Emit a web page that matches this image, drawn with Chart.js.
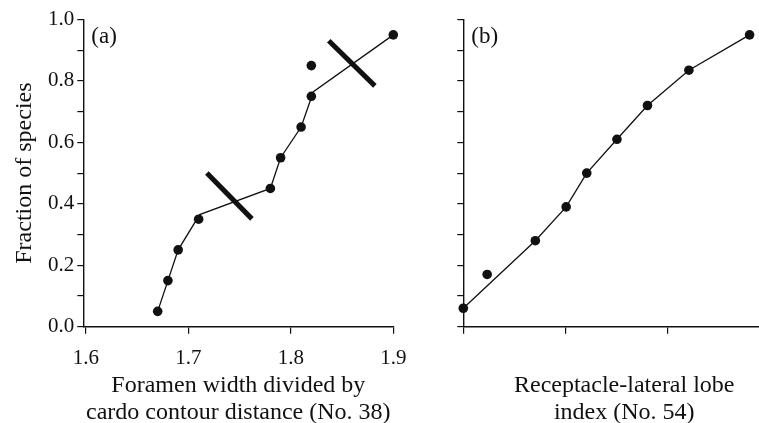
<!DOCTYPE html>
<html>
<head>
<meta charset="utf-8">
<script src="https://cdn.jsdelivr.net/npm/chart.js@4/dist/chart.umd.min.js"></script>
<style>
  html, body { margin: 0; padding: 0; background: #fff; overflow: hidden; }
  #wrap { position: relative; width: 759px; height: 423px; overflow: hidden; }
  #chartA { position: absolute; left: 0; top: 0; }
  #chartB { position: absolute; left: 420px; top: 0; }
</style>
</head>
<body>
<div id="wrap">
  <canvas id="chartA" width="420" height="426"></canvas>
  <canvas id="chartB" width="370" height="426"></canvas>
</div>
<script>
// Panel (a): foramen width / cardo contour distance
const aX = [1.67, 1.68, 1.69, 1.71, 1.78, 1.79, 1.81, 1.82, 1.82, 1.90];
const aY = [0.05, 0.15, 0.25, 0.35, 0.45, 0.55, 0.65, 0.75, 0.85, 0.95];
// piecewise fit line through the points
const aFitX = [1.67, 1.68, 1.69, 1.711, 1.78, 1.79, 1.81, 1.822, 1.90];
const aFitY = [0.05, 0.15, 0.25, 0.365, 0.45, 0.55, 0.65, 0.765, 0.95];
// the two break marks (thick slashes)
const aBreak1X = [1.718, 1.762];
const aBreak1Y = [0.50, 0.351];
const aBreak2X = [1.837, 1.882];
const aBreak2Y = [0.931, 0.784];
const aTicksX = [1.6, 1.7, 1.8, 1.9];

// Panel (b): receptacle-lateral lobe index (unlabelled x units)
const bX = [0, 0.234, 0.706, 1.008, 1.21, 1.506, 1.805, 2.211, 2.806];
const bY = [0.06, 0.17, 0.28, 0.39, 0.50, 0.61, 0.72, 0.835, 0.95];
const bFitX = [0, 0.706, 1.008, 1.21, 1.506, 1.805, 2.211, 2.806];
const bFitY = [0.06, 0.28, 0.39, 0.50, 0.61, 0.72, 0.835, 0.95];
const bTicksX = [0, 1, 2];

const serif = '"Liberation Serif", "DejaVu Serif", serif';
const ink = '#111';

function pts(xs, ys) {
  return xs.map((x, i) => ({ x: x, y: ys[i] }));
}

// draws the "(a)" / "(b)" panel letter
const panelLabel = {
  id: 'panelLabel',
  afterDraw(chart, args, opts) {
    const { ctx, chartArea } = chart;
    ctx.save();
    ctx.font = '23px ' + serif;
    ctx.fillStyle = ink;
    ctx.textBaseline = 'middle';
    ctx.fillText(opts.text, chartArea.left + 8, chartArea.top + 17);
    ctx.restore();
  }
};

function yScale(width, showLabels, title) {
  return {
    min: 0, max: 1,
    afterFit: s => { s.width = width; },
    border: { display: true, color: ink, width: 1.4 },
    grid: { drawOnChartArea: false, drawTicks: true, tickLength: 6, color: ink, lineWidth: 1.2 },
    ticks: {
      stepSize: 0.1, padding: 3, color: ink,
      font: { family: serif, size: 21 },
      callback: v => (showLabels && Math.round(v * 10) % 2 === 0) ? v.toFixed(1) : ''
    },
    title: {
      display: !!title, text: title, color: ink,
      font: { family: serif, size: 24 }, padding: { top: 10 }
    }
  };
}

function xScale(min, max, tickVals, showLabels, title) {
  return {
    type: 'linear', min: min, max: max,
    afterFit: s => { s.height = 99.3; },
    afterBuildTicks: s => { s.ticks = tickVals.map(v => ({ value: v })); },
    border: { display: true, color: ink, width: 1.4 },
    grid: { drawOnChartArea: false, drawTicks: true, tickLength: 7, color: ink, lineWidth: 1.2 },
    ticks: {
      padding: 12, color: ink, maxRotation: 0, autoSkip: false,
      font: { family: serif, size: 21 },
      callback: v => showLabels ? v.toFixed(1) : ''
    },
    title: {
      display: true, text: title, color: ink,
      font: { family: serif, size: 24, lineHeight: '27px' }, padding: { bottom: 0 }
    }
  };
}

const dotStyle = {
  type: 'scatter', showLine: false, pointRadius: 4.8, pointHoverRadius: 4.8,
  pointBackgroundColor: ink, pointBorderColor: ink, pointBorderWidth: 0, clip: false
};
const fitStyle = {
  type: 'line', borderColor: ink, borderWidth: 1.3, pointRadius: 0, tension: 0, fill: false, clip: false
};
const breakStyle = {
  type: 'line', borderColor: ink, borderWidth: 5, pointRadius: 0, tension: 0, fill: false, clip: false,
  borderCapStyle: 'butt'
};

const common = {
  responsive: false,
  animation: false,
  events: [],
  plugins: { legend: { display: false }, tooltip: { enabled: false } }
};

// Render panel (a)
new Chart(document.getElementById('chartA').getContext('2d'), {
  data: {
    datasets: [
      Object.assign({ data: pts(aFitX, aFitY) }, fitStyle),
      Object.assign({ data: pts(aBreak1X, aBreak1Y) }, breakStyle),
      Object.assign({ data: pts(aBreak2X, aBreak2Y) }, breakStyle),
      Object.assign({ data: pts(aX, aY) }, dotStyle)
    ]
  },
  options: Object.assign({}, common, {
    layout: { padding: { left: 0, top: 19.5, right: 26.7, bottom: 0 } },
    scales: {
      x: xScale(1.5974, 1.9, aTicksX, true, ['Foramen width divided by', 'cardo contour distance (No. 38)']),
      y: yScale(83.3, true, 'Fraction of species')
    },
    plugins: Object.assign({}, common.plugins, { panelLabel: { text: '(a)' } })
  }),
  plugins: [panelLabel]
});

// Render panel (b)
new Chart(document.getElementById('chartB').getContext('2d'), {
  data: {
    datasets: [
      Object.assign({ data: pts(bFitX, bFitY) }, fitStyle),
      Object.assign({ data: pts(bX, bY) }, dotStyle)
    ]
  },
  options: Object.assign({}, common, {
    layout: { padding: { left: 0, top: 19.5, right: 3.3, bottom: 0 } },
    scales: {
      x: xScale(0, 3.155, bTicksX, false, ['Receptacle-lateral lobe', 'index (No. 54)']),
      y: yScale(43.3, false, '')
    },
    plugins: Object.assign({}, common.plugins, { panelLabel: { text: '(b)' } })
  }),
  plugins: [panelLabel]
});
</script>
</body>
</html>
